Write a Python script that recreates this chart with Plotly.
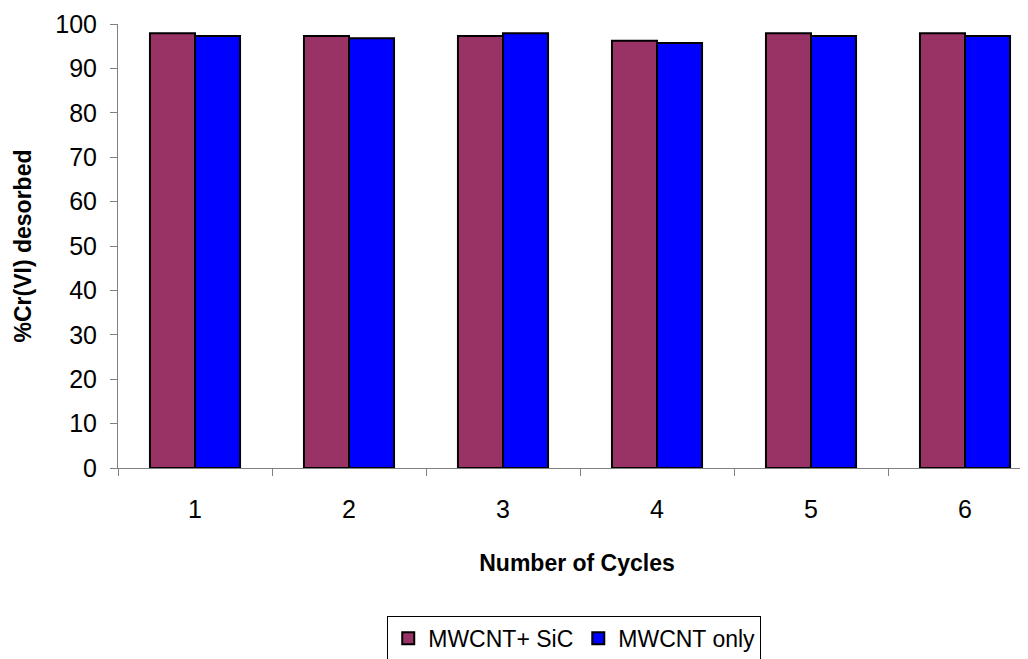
import plotly.graph_objects as go

cycles = ["1", "2", "3", "4", "5", "6"]
mwcnt_sic = [97.9, 97.3, 97.3, 96.2, 97.9, 97.9]
mwcnt_only = [97.3, 96.8, 97.9, 95.7, 97.3, 97.3]

FONT = "Liberation Sans, Arial, sans-serif"

fig = go.Figure()
fig.add_trace(go.Bar(x=cycles, y=mwcnt_sic, name="MWCNT+ SiC",
                     marker=dict(color="#993366", line=dict(color="black", width=2))))
fig.add_trace(go.Bar(x=cycles, y=mwcnt_only, name="MWCNT only",
                     marker=dict(color="#0000FF", line=dict(color="black", width=2))))

fig.update_layout(
    width=1028, height=659,
    margin=dict(l=110, r=0, t=16, b=199),
    paper_bgcolor="white", plot_bgcolor="white",
    barmode="group", bargap=0.415, bargroupgap=0,
    font=dict(family=FONT, size=25, color="black"),
    showlegend=True,
    legend=dict(orientation="h", x=0.497, xanchor="center", y=-0.333, yanchor="top",
                bordercolor="black", borderwidth=1, font=dict(size=23),
                itemwidth=30, traceorder="normal"),
)
fig.update_xaxes(
    type="category", range=[-0.5, 5.461], tickson="boundaries",
    showline=True, linecolor="#808080", linewidth=1,
    ticks="outside", ticklen=7, tickcolor="#808080", ticklabelstandoff=19,
    showgrid=False, zeroline=False,
    title=dict(text="<b>Number of Cycles</b>", font=dict(size=23), standoff=32),
)
fig.update_yaxes(
    range=[0, 100], dtick=10,
    showline=True, linecolor="#808080", linewidth=1,
    ticks="outside", ticklen=7, tickcolor="#808080", ticklabelstandoff=8,
    showgrid=False, zeroline=False,
    title=dict(text="<b>%Cr(VI) desorbed</b>", font=dict(size=23), standoff=17),
)

fig.write_html("out.html")
